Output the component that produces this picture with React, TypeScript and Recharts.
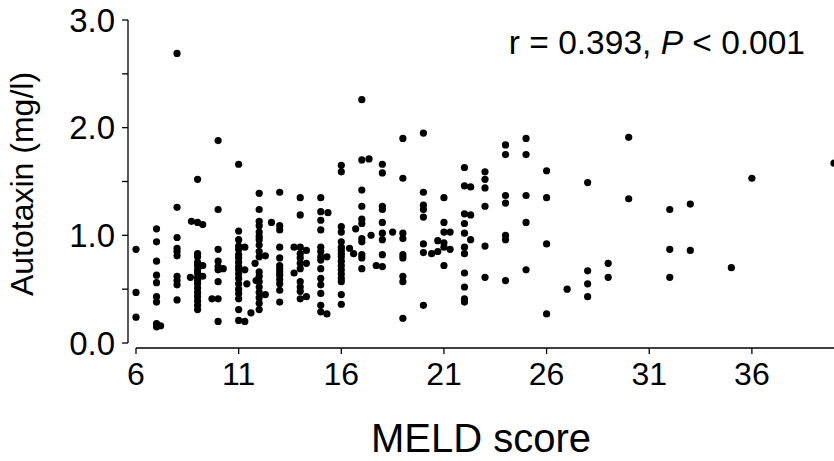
import { ScatterChart, Scatter, XAxis, YAxis, Label } from 'recharts';

const meldTicks = [6, 11, 16, 21, 26, 31, 36];
const autotaxinTicks = [0, 0.5, 1, 1.5, 2, 2.5, 3];

// autotaxin (mg/l), one list per MELD score
const meld6 = [0.87, 0.47, 0.24];
const meld7 = [1.06, 0.94, 0.76, 0.63, 0.56, 0.43, 0.38, 0.18, 0.15];
const meld8 = [2.69, 1.26, 0.98, 0.88, 0.85, 0.81, 0.62, 0.58, 0.54, 0.4];
const meld9 = [1.52, 1.12, 0.83, 0.8, 0.75, 0.72, 0.68, 0.65, 0.61, 0.58, 0.55, 0.51, 0.47, 0.43, 0.39, 0.35, 0.31];
const meld10 = [1.88, 1.24, 0.87, 0.76, 0.71, 0.68, 0.57, 0.41, 0.2];
const meld11 = [1.66, 1.04, 0.96, 0.9, 0.87, 0.82, 0.79, 0.75, 0.71, 0.68, 0.64, 0.6, 0.55, 0.5, 0.46, 0.41, 0.31, 0.21];
const meld12 = [1.39, 1.24, 1.13, 1.09, 1.03, 0.99, 0.96, 0.91, 0.85, 0.8, 0.66, 0.62, 0.57, 0.52, 0.47, 0.42, 0.37, 0.31];
const meld13 = [1.4, 1.09, 1.05, 0.89, 0.79, 0.72, 0.69, 0.66, 0.63, 0.59, 0.55, 0.49, 0.38];
const meld14 = [1.35, 1.19, 0.89, 0.83, 0.79, 0.74, 0.69, 0.57, 0.52, 0.48, 0.41];
const meld15 = [1.35, 1.22, 1.14, 1.05, 0.89, 0.85, 0.8, 0.77, 0.69, 0.6, 0.54, 0.46, 0.35, 0.29];
const meld16 = [1.65, 1.59, 1.08, 1.03, 0.94, 0.89, 0.86, 0.83, 0.8, 0.76, 0.72, 0.68, 0.64, 0.6, 0.57, 0.45, 0.36];
const meld17 = [2.26, 1.7, 1.42, 1.27, 1.15, 1.11, 0.97, 0.94, 0.82, 0.79, 0.69];
const meld18 = [1.66, 1.58, 1.27, 1.24, 1.12, 1.02, 0.96, 0.82, 0.71];
const meld19 = [1.9, 1.53, 1.02, 0.97, 0.82, 0.79, 0.62, 0.57, 0.23];
const meld20 = [1.95, 1.4, 1.28, 1.24, 1.17, 0.92, 0.84, 0.35];
const meld21 = [1.35, 1.12, 1.03, 0.93, 0.89, 0.72];
const meld22 = [1.63, 1.46, 1.2, 1.11, 1.02, 0.89, 0.83, 0.65, 0.52, 0.41, 0.38];
const meld23 = [1.59, 1.52, 1.44, 1.27, 0.9, 0.61];
const meld24 = [1.84, 1.75, 1.37, 1.3, 1.0, 0.96, 0.58];
const meld25 = [1.9, 1.75, 1.37, 1.12, 0.68];
const meld26 = [1.6, 1.35, 0.92, 0.27];
const meld27 = [0.5];
const meld28 = [1.49, 0.67, 0.55, 0.43];
const meld29 = [0.74, 0.61];
const meld30 = [1.91, 1.34];
const meld32 = [1.24, 0.87, 0.61];
const meld33 = [1.29, 0.86];
const meld35 = [0.7];
const meld36 = [1.53];
const meld40 = [1.67];

// dots drawn a little beside their column because they overlap
const nudged: [number, number][] = [
  [7.2, 0.16], [8.7, 1.13], [9.25, 1.1], [8.65, 0.61], [9.25, 0.72], [9.25, 0.62],
  [10.25, 0.69], [9.7, 0.41], [11.3, 0.89], [11.3, 0.68], [11.4, 0.55], [11.3, 0.2],
  [11.8, 0.74], [11.85, 0.58], [11.6, 0.28], [12.3, 0.81], [12.3, 0.45], [12.6, 1.12],
  [13.7, 0.89], [14.3, 0.86], [14.3, 0.74], [13.7, 0.65], [14.3, 0.43], [15.35, 1.21],
  [15.3, 0.8], [15.3, 0.27], [16.4, 0.88], [16.6, 0.83], [17.35, 1.71], [16.7, 1.06],
  [17.45, 1.0], [17.7, 0.72], [18.5, 1.03], [20.4, 0.83], [20.7, 0.85], [21.3, 1.03],
  [20.7, 0.95], [21.3, 0.87], [22.3, 1.45], [22.3, 1.19], [22.3, 0.96],
];

const columns: [number, number[]][] = [
  [6, meld6], [7, meld7], [8, meld8], [9, meld9], [10, meld10], [11, meld11],
  [12, meld12], [13, meld13], [14, meld14], [15, meld15], [16, meld16], [17, meld17],
  [18, meld18], [19, meld19], [20, meld20], [21, meld21], [22, meld22], [23, meld23],
  [24, meld24], [25, meld25], [26, meld26], [27, meld27], [28, meld28], [29, meld29],
  [30, meld30], [32, meld32], [33, meld33], [35, meld35], [36, meld36], [40, meld40],
];

const points = [
  ...columns.flatMap(([meld, vals]) => vals.map((atx) => ({ meld, atx }))),
  ...nudged.map(([meld, atx]) => ({ meld, atx })),
];

const FONT = '"Liberation Sans", Arial, Helvetica, sans-serif';

const Dot = (props: any) => <circle cx={props.cx} cy={props.cy} r={3.6} fill="#000" />;

const YTitle = (props: any) => {
  const vb = props.viewBox || { x: 0, y: 20, height: 328 };
  const x = vb.x + 33;
  const y = vb.y + vb.height / 2;
  return (
    <text x={x} y={y} transform={`rotate(-90 ${x} ${y})`} textAnchor="middle" fontSize={32} fontFamily={FONT} fill="#000">
      Autotaxin (mg/l)
    </text>
  );
};

export default function App() {
  return (
    <div style={{ position: 'absolute', left: 0, top: 0, width: 834, height: 461, background: '#fff' }}>
      <ScatterChart width={834} height={461} margin={{ top: 20, right: 0, bottom: 0, left: 0 }}>
        <XAxis
          type="number"
          dataKey="meld"
          domain={[6, 40]}
          ticks={meldTicks}
          padding={{ left: 8, right: 0 }}
          height={113}
          axisLine={{ stroke: '#000', strokeWidth: 1.3, strokeDasharray: '0 8 2000' }}
          tickLine={{ stroke: '#000', strokeWidth: 1.3 }}
          tickSize={6}
          tickMargin={8}
          tick={{ fill: '#000', fontSize: 32, fontFamily: FONT }}
        >
          <Label value="MELD score" position="insideBottom" offset={9} fontSize={40} fontFamily={FONT} fill="#000" />
        </XAxis>
        <YAxis
          type="number"
          dataKey="atx"
          domain={[0, 3]}
          ticks={autotaxinTicks}
          padding={{ top: 0, bottom: 5 }}
          width={128}
          axisLine={{ stroke: '#000', strokeWidth: 1.3, strokeDasharray: '323 1000' }}
          tickLine={{ stroke: '#000', strokeWidth: 1.3 }}
          tickSize={6}
          tickMargin={7}
          tickFormatter={(v: number) => (Number.isInteger(v) ? v.toFixed(1) : '')}
          tick={{ fill: '#000', fontSize: 33, fontFamily: FONT }}
          interval={0}
        >
          <Label content={<YTitle />} />
        </YAxis>
        <Scatter data={points} shape={<Dot />} isAnimationActive={false} />
      </ScatterChart>
      <div
        style={{
          position: 'absolute',
          right: 29,
          top: 26,
          fontFamily: FONT,
          fontSize: 33.5,
          lineHeight: '33.5px',
          whiteSpace: 'nowrap',
          color: '#000',
        }}
      >
        r = 0.393, <i>P</i> &lt; 0.001
      </div>
    </div>
  );
}
